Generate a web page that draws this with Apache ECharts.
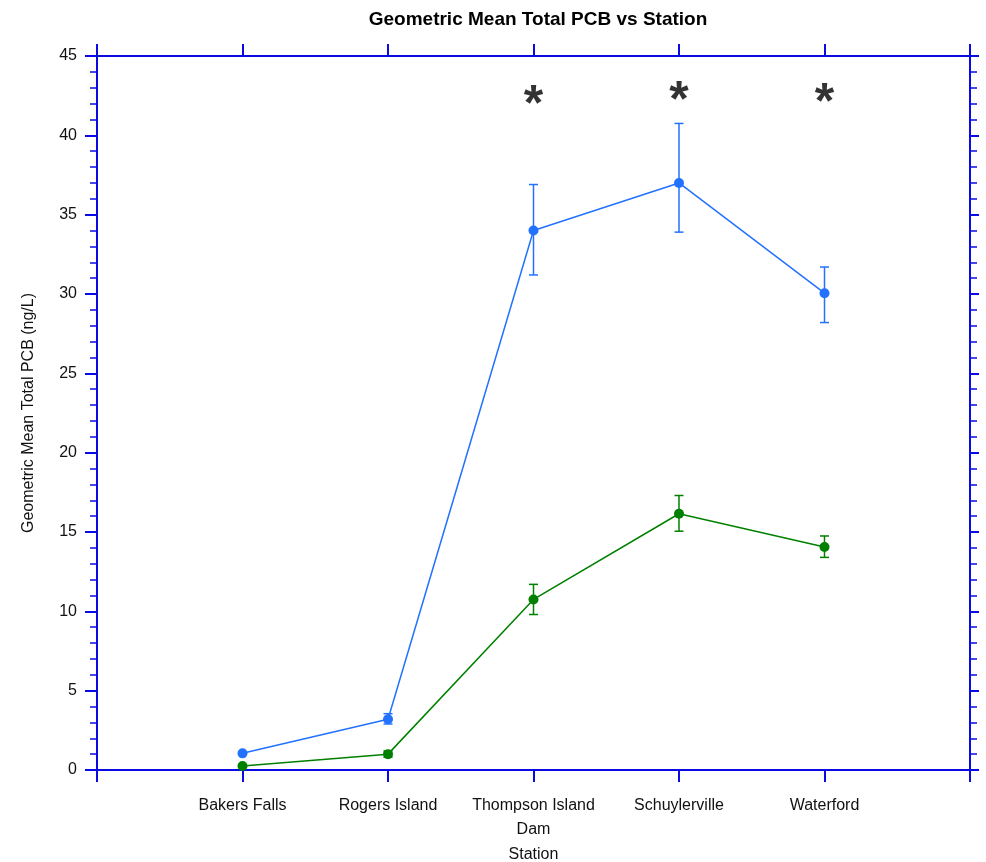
<!DOCTYPE html>
<html>
<head>
<meta charset="utf-8">
<script src="https://cdn.jsdelivr.net/npm/echarts@6/dist/echarts.min.js"></script>
<style>html,body{margin:0;padding:0;background:#fff;overflow:hidden}#c{width:986px;height:862px}</style>
</head>
<body>
<div id="c"></div>
<script>
const categories = ['Bakers Falls', 'Rogers Island', 'Thompson Island\nDam', 'Schuylerville', 'Waterford'];
const positions = [1, 2, 3, 4, 5];
const blueMean = [1.05, 3.2, 34.0, 37.0, 30.05];
const blueUpper = [null, 3.55, 36.9, 40.75, 31.7];
const blueLower = [null, 2.9, 31.2, 33.9, 28.2];
const greenMean = [0.25, 1.0, 10.75, 16.15, 14.05];
const greenUpper = [null, 1.2, 11.7, 17.3, 14.75];
const greenLower = [null, 0.8, 9.8, 15.05, 13.4];
const starPositions = [3, 4, 5];
const starValues = [42.6, 42.85, 42.7];
const yTicks = [0, 5, 10, 15, 20, 25, 30, 35, 40, 45];

const AX = '#0a0ae6';
const BLUE = '#2271FF';
const GREEN = '#008000';
const FONT = 'Liberation Sans, Arial, sans-serif';

function pts(vals) { return positions.map((p, i) => [p, vals[i]]); }
function errData(up, lo) {
  const out = [];
  positions.forEach((p, i) => { if (up[i] != null) out.push([p, lo[i], up[i]]); });
  return out;
}
function errSeries(data, color) {
  return {
    type: 'custom', data: data, z: 3, silent: true,
    renderItem: function (params, api) {
      const x = api.value(0);
      const lo = api.coord([x, api.value(1)]);
      const hi = api.coord([x, api.value(2)]);
      const w = 4.5;
      const st = { stroke: color, lineWidth: 1.5 };
      return { type: 'group', children: [
        { type: 'line', shape: { x1: hi[0], y1: hi[1], x2: lo[0], y2: lo[1] }, style: st },
        { type: 'line', shape: { x1: hi[0] - w, y1: hi[1], x2: hi[0] + w, y2: hi[1] }, style: st },
        { type: 'line', shape: { x1: lo[0] - w, y1: lo[1], x2: lo[0] + w, y2: lo[1] }, style: st }
      ]};
    }
  };
}

const chart = echarts.init(document.getElementById('c'));
const labelMap = {};
positions.forEach((p, i) => labelMap[p] = categories[i]);

chart.setOption({
  animation: false,
  backgroundColor: '#fff',
  title: { text: 'Geometric Mean Total PCB vs Station', left: 533, textAlign: 'center', top: 5,
    textStyle: { fontFamily: FONT, fontSize: 19, fontWeight: 'bold', color: '#000' } },
  grid: { left: 97, top: 56, width: 873, height: 714, containLabel: false, outerBoundsMode: 'none' },
  xAxis: [
    { type: 'value', min: 0, max: 6, interval: 1, position: 'bottom',
      name: 'Station', nameLocation: 'middle', nameGap: 74,
      nameTextStyle: { fontFamily: FONT, fontSize: 16, color: '#111' },
      axisLine: { onZero: false, lineStyle: { color: AX, width: 2 } },
      axisTick: { length: 12, lineStyle: { color: AX, width: 2 } },
      splitLine: { show: false },
      axisLabel: { margin: 24, fontFamily: FONT, fontSize: 16, color: '#111', lineHeight: 24,
        formatter: v => labelMap[v] || '' } },
    { type: 'value', min: 0, max: 6, interval: 1, position: 'top',
      axisLine: { onZero: false, lineStyle: { color: AX, width: 2 } },
      axisTick: { length: 12, lineStyle: { color: AX, width: 2 } },
      splitLine: { show: false }, axisLabel: { show: false } }
  ],
  yAxis: [
    { type: 'value', min: 0, max: 45, interval: 5, position: 'left',
      name: 'Geometric Mean Total PCB (ng/L)', nameLocation: 'middle', nameGap: 60,
      nameTextStyle: { fontFamily: FONT, fontSize: 16, color: '#111' },
      axisLine: { show: true, onZero: false, lineStyle: { color: AX, width: 2 } },
      axisTick: { show: true, length: 12, lineStyle: { color: AX, width: 2 } },
      minorTick: { show: true, splitNumber: 5, length: 7, lineStyle: { color: AX, width: 1.5 } },
      splitLine: { show: false },
      axisLabel: { margin: 20, fontFamily: FONT, fontSize: 16, color: '#111',
        formatter: v => yTicks.indexOf(v) >= 0 ? String(v) : '' } },
    { type: 'value', min: 0, max: 45, interval: 5, position: 'right',
      axisLine: { show: true, onZero: false, lineStyle: { color: AX, width: 2 } },
      axisTick: { show: true, length: 9, lineStyle: { color: AX, width: 2 } },
      minorTick: { show: true, splitNumber: 5, length: 7, lineStyle: { color: AX, width: 1.5 } },
      splitLine: { show: false }, axisLabel: { show: false } }
  ],
  series: [
    errSeries(errData(blueUpper, blueLower), BLUE),
    errSeries(errData(greenUpper, greenLower), GREEN),
    { type: 'line', data: pts(blueMean), symbol: 'circle', symbolSize: 10, z: 4,
      lineStyle: { color: BLUE, width: 1.5 }, itemStyle: { color: BLUE } },
    { type: 'line', data: pts(greenMean), symbol: 'circle', symbolSize: 10, z: 4,
      lineStyle: { color: GREEN, width: 1.5 }, itemStyle: { color: GREEN } },
    { type: 'scatter', data: starPositions.map((p, i) => [p, starValues[i]]), symbolSize: 0,
      label: { show: true, position: 'inside', offset: [0, 12], formatter: '*', fontFamily: FONT, fontSize: 50,
        fontWeight: 'bold', color: '#000' } }
  ]
});
</script>
</body>
</html>
